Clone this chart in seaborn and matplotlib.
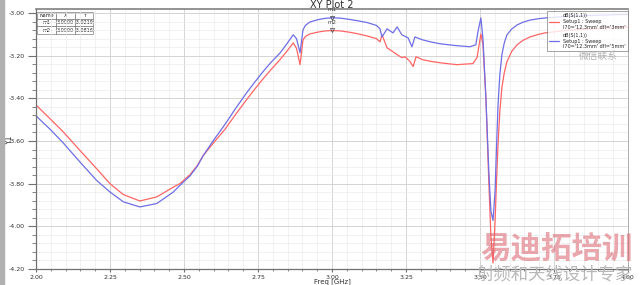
import numpy as np
import pandas as pd
import matplotlib
matplotlib.use("Agg")
import matplotlib.pyplot as plt
from matplotlib.ticker import MultipleLocator, FormatStrFormatter
from matplotlib.lines import Line2D
import seaborn as sns

# ---------------- data ----------------
freq_blue = [2.000, 2.047, 2.092, 2.149, 2.205, 2.250, 2.295, 2.351, 2.408, 2.464,
             2.486, 2.520, 2.545, 2.565, 2.600, 2.639, 2.675, 2.712, 2.740, 2.768,
             2.796, 2.824, 2.847, 2.869, 2.880, 2.892, 2.902, 2.910, 2.925, 2.950,
             2.975, 3.003, 3.030, 3.060, 3.090, 3.120, 3.150, 3.162, 3.169, 3.186,
             3.206, 3.220, 3.236, 3.257, 3.270, 3.280, 3.307, 3.336, 3.365, 3.395,
             3.422, 3.466, 3.486, 3.493, 3.503, 3.510, 3.520, 3.530, 3.537, 3.544,
             3.551, 3.556, 3.561, 3.567, 3.574, 3.582, 3.591, 3.607, 3.625, 3.645,
             3.669, 3.695, 3.720, 3.800, 3.900, 4.000]
s11_blue = [-3.482, -3.544, -3.609, -3.699, -3.785, -3.839, -3.885, -3.909, -3.893, -3.839,
            -3.808, -3.764, -3.718, -3.668, -3.596, -3.521, -3.446, -3.373, -3.322, -3.273,
            -3.228, -3.188, -3.145, -3.102, -3.120, -3.186, -3.079, -3.058, -3.042, -3.032,
            -3.025, -3.022, -3.024, -3.030, -3.037, -3.045, -3.058, -3.074, -3.112, -3.074,
            -3.093, -3.065, -3.102, -3.116, -3.158, -3.112, -3.126, -3.136, -3.144, -3.149,
            -3.153, -3.158, -3.149, -3.088, -3.023, -3.120, -3.400, -3.750, -3.930, -3.972,
            -3.833, -3.620, -3.428, -3.290, -3.195, -3.140, -3.102, -3.075, -3.056, -3.043,
            -3.033, -3.027, -3.023, -3.015, -3.010, -3.006]

freq_red = [2.000, 2.047, 2.092, 2.149, 2.205, 2.250, 2.295, 2.351, 2.408, 2.464,
            2.486, 2.520, 2.545, 2.565, 2.600, 2.639, 2.675, 2.712, 2.740, 2.768,
            2.796, 2.824, 2.847, 2.869, 2.880, 2.892, 2.902, 2.910, 2.925, 2.950,
            2.975, 3.003, 3.030, 3.060, 3.090, 3.120, 3.150, 3.162, 3.169, 3.186,
            3.196, 3.220, 3.236, 3.247, 3.264, 3.274, 3.284, 3.307, 3.336, 3.365,
            3.395, 3.422, 3.476, 3.490, 3.503, 3.510, 3.520, 3.530, 3.537, 3.544,
            3.551, 3.556, 3.561, 3.567, 3.574, 3.582, 3.591, 3.607, 3.625, 3.645,
            3.669, 3.695, 3.720, 3.800, 3.900, 4.000]
s11_red = [-3.431, -3.495, -3.557, -3.645, -3.730, -3.800, -3.851, -3.881, -3.862, -3.816,
           -3.800, -3.758, -3.715, -3.668, -3.608, -3.544, -3.474, -3.405, -3.355, -3.307,
           -3.262, -3.219, -3.180, -3.140, -3.165, -3.242, -3.126, -3.110, -3.098, -3.090,
           -3.084, -3.082, -3.084, -3.090, -3.098, -3.108, -3.120, -3.135, -3.102, -3.163,
           -3.172, -3.195, -3.209, -3.205, -3.228, -3.251, -3.205, -3.219, -3.227, -3.233,
           -3.238, -3.242, -3.237, -3.209, -3.098, -3.149, -3.400, -3.800, -4.050, -4.172,
           -3.972, -3.780, -3.614, -3.460, -3.349, -3.280, -3.228, -3.180, -3.149, -3.128,
           -3.112, -3.101, -3.093, -3.080, -3.072, -3.066]

series_names = ["red", "blue"]
marker_names = ["m1", "m2"]
marker_x = [3.0000, 3.0000]
marker_y = [-3.0219, -3.0816]

title = "XY Plot 2"
xlabel = "Freq [GHz]"
ylabel = "Y1"

df = pd.concat([
    pd.DataFrame({"f": freq_red, "v": s11_red, "s": series_names[0]}),
    pd.DataFrame({"f": freq_blue, "v": s11_blue, "s": series_names[1]}),
])

RED = "#ff6464"
BLUE = "#6e6ee6"

sns.set_style("white")
plt.rcParams['font.family'] = ['DejaVu Sans', 'Noto Sans CJK SC']

fig = plt.figure(figsize=(6.4, 2.85), dpi=100)
ax = fig.add_axes([36/640, 1-269/285, (628-36)/640, (269-9)/285])

sns.lineplot(data=df, x="f", y="v", hue="s", palette={"red": RED, "blue": BLUE},
             linewidth=0.9, ax=ax, legend=False, estimator=None, sort=False)

ax.set_xlim(2.0, 4.0)
ax.set_ylim(-4.20, -2.981)
ax.xaxis.set_major_locator(MultipleLocator(0.25))
ax.xaxis.set_minor_locator(MultipleLocator(0.05))
ax.yaxis.set_major_locator(MultipleLocator(0.20))
ax.yaxis.set_minor_locator(MultipleLocator(0.04))
ax.xaxis.set_major_formatter(FormatStrFormatter("%.2f"))
ax.yaxis.set_major_formatter(FormatStrFormatter("%.2f"))
ax.grid(True, which="major", color="#d4d4d4", linewidth=0.7)
ax.grid(True, which="minor", color="#ececec", linewidth=0.5)
ax.set_axisbelow(True)
ax.tick_params(axis="y", which="major", labelsize=4.5, length=6, width=0.8,
               color="#707070", labelcolor="#303030", direction="out", pad=2)
ax.tick_params(axis="y", which="minor", length=3, width=0.6, color="#707070",
               direction="out")
ax.tick_params(axis="x", which="major", labelsize=4.5, length=2.5, width=0.8,
               color="#707070", labelcolor="#303030", direction="out", pad=1.5)
ax.tick_params(axis="x", which="minor", length=1.5, width=0.6, color="#707070",
               direction="out")
ax.tick_params(axis="x", which="both", bottom=True)
ax.tick_params(axis="y", which="both", left=True)
for side in ["left", "bottom"]:
    ax.spines[side].set_color("#707070")
    ax.spines[side].set_linewidth(0.9)
ax.spines["top"].set_color("#808080")
ax.spines["top"].set_linewidth(1.2)
ax.spines["right"].set_color("#a0a0a0")
ax.spines["right"].set_linewidth(0.6)

ax.set_xlabel(xlabel, fontsize=5, color="#303030")
ax.set_ylabel(ylabel, fontsize=5.5, color="#303030")
ax.xaxis.set_label_coords(0.5, -0.035)
ax.yaxis.set_label_coords(-0.038, 0.5)
fig.text(332/640, 1-5/285, title, ha="center", va="center", fontsize=7, color="#303030")

# markers
for name, mx, my in zip(marker_names, marker_x, marker_y):
    ax.plot([mx], [my], marker="v", markersize=3, markerfacecolor="none",
            markeredgecolor="#404040", markeredgewidth=0.5, linestyle="none")
    ax.annotate(name, (mx, my), xytext=(0, 4), textcoords="offset points",
                ha="center", va="bottom", fontsize=4, color="#404040")

# marker table
cell_text = [[n, "%.4f" % x, "%.4f" % y] for n, x, y in zip(marker_names, marker_x, marker_y)]
tab = ax.table(cellText=cell_text, colLabels=["Name", "X", "Y"],
               bbox=[0.002, 0.905, 0.095, 0.085], cellLoc="center")
tab.auto_set_font_size(False)
tab.set_fontsize(3.5)
for (r, c), cell in tab.get_celld().items():
    cell.set_linewidth(0.4)
    cell.set_edgecolor("#606060")
    cell.set_facecolor("white")

# legend
handles = [Line2D([0], [0], color=RED, lw=0.9), Line2D([0], [0], color=BLUE, lw=0.9)]
labels = ["dB(S(1,1))\nSetup1 : Sweep\nl70='12.3mm' dfl='3mm'",
          "dB(S(1,1))\nSetup1 : Sweep\nl70='12.3mm' dfl='5mm'"]
leg = ax.legend(handles, labels, loc="upper left", bbox_to_anchor=(545/640, 1-9/285),
                bbox_transform=fig.transFigure, fontsize=3.5, frameon=True,
                fancybox=False, borderpad=0.4, handlelength=2, labelspacing=0.6)
leg.get_frame().set_edgecolor("#606060")
leg.get_frame().set_linewidth(0.5)

# watermark texts
fig.text(557/640, 1-249/285, "易迪拓培训", ha="center", va="center", fontsize=22,
         color="#d9606a", alpha=0.55, family=["Noto Sans CJK SC"], weight="bold")
fig.text(555/640, 1-275/285, "射频和天线设计专家", ha="center", va="center", fontsize=12.5,
         color="#b8b8b8", family=["Noto Sans CJK SC"])
fig.text(598/640, 1-56/285, "微信联系", ha="center", va="center", fontsize=7,
         color="#b0b0b0", family=["Noto Sans CJK SC"])

# left border strip
fig.patches.append(plt.Rectangle((0, 0), 4/640, 1, transform=fig.transFigure,
                                 color="#b0b0b0", zorder=0))

fig.savefig("out.png", dpi=100)
